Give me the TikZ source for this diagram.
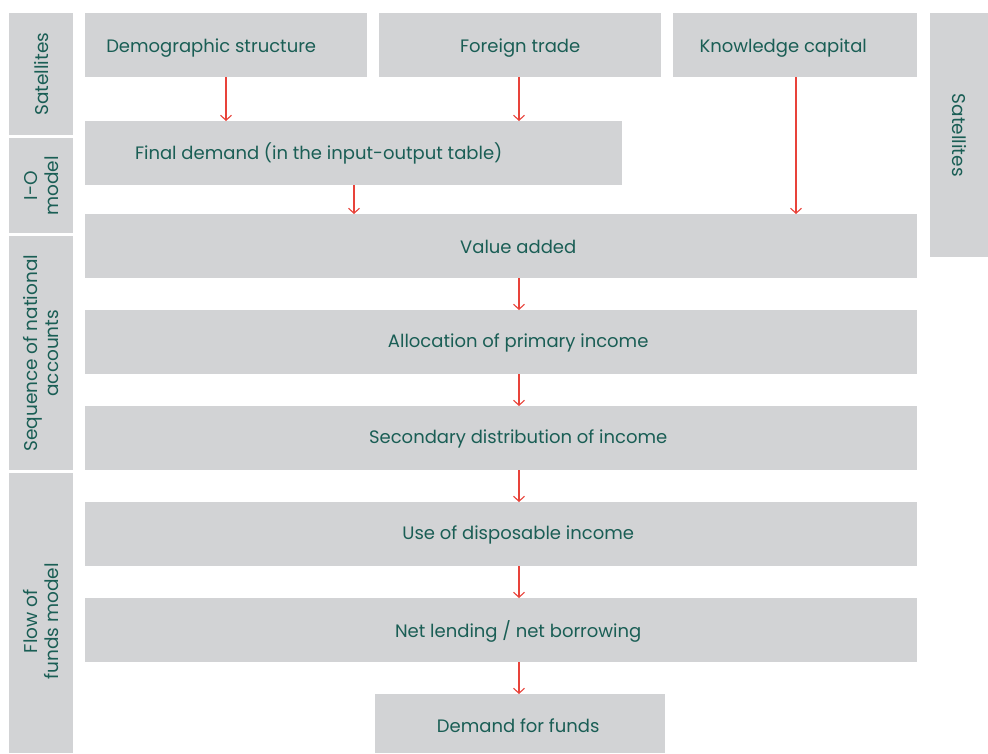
\documentclass[tikz,border=0pt]{standalone}
\usepackage{fontspec}
\setmainfont{Poppins}
\usetikzlibrary{arrows.meta}
\definecolor{boxgray}{HTML}{D2D3D5}
\definecolor{tealtxt}{HTML}{1A5E55}
\definecolor{arrred}{HTML}{E8433A}
\begin{document}
\begin{tikzpicture}[x=1pt,y=-1pt,
  box/.style={fill=boxgray,draw=none,inner sep=0pt,anchor=north west},
  lbl/.style={text=tealtxt,font=\fontsize{18}{22}\selectfont,inner sep=0pt},
  vlbl/.style={text=tealtxt,font=\fontsize{18.5}{21}\selectfont,inner sep=0pt,align=center},
  flow/.style={draw=arrred,line width=1.2pt,-{Straight Barb[length=5pt,width=11pt,line width=1.1pt]}}]
\useasboundingbox (0,0) rectangle (988,753);
% left column
\node[box,minimum width=64pt,minimum height=122pt] (lsat) at (9,13) {};
\node[box,minimum width=64pt,minimum height=95pt] (lio) at (9,138) {};
\node[box,minimum width=64pt,minimum height=234pt] (lseq) at (9,236) {};
\node[box,minimum width=64pt,minimum height=280pt] (lfof) at (9,473) {};
\node[vlbl,rotate=90] at (lsat.center) {Satellites};
\node[vlbl,rotate=90] at (lio.center) {I-O\\model};
\node[vlbl,rotate=90] at (lseq.center) {Sequence of national\\accounts};
\node[vlbl,rotate=90] at ([yshift=-8pt]lfof.center) {Flow of\\funds model};
% right column
\node[box,minimum width=58pt,minimum height=244pt] (rsat) at (930,13) {};
\node[vlbl,rotate=-90] at (rsat.center) {Satellites};
% top boxes
\node[box,minimum width=282pt,minimum height=64pt] (demo) at (85,13) {};
\node[box,minimum width=282pt,minimum height=64pt] (trade) at (379,13) {};
\node[box,minimum width=244pt,minimum height=64pt] (know) at (673,13) {};
\node[lbl] at ([xshift=-15pt,yshift=-3pt]demo.center) {Demographic structure};
\node[lbl] at ([yshift=-3pt]trade.center) {Foreign trade};
\node[lbl] at ([xshift=-12pt,yshift=-3pt]know.center) {Knowledge capital};
% final demand
\node[box,minimum width=537pt,minimum height=64pt] (fd) at (85,121) {};
\node[lbl] at ([xshift=-35pt]fd.center) {Final demand (in the input-output table)};
% main chain
\node[box,minimum width=832pt,minimum height=64pt] (va) at (85,214) {};
\node[lbl] at ([xshift=17pt,yshift=-1pt]va.center) {Value added};
\node[box,minimum width=832pt,minimum height=64pt] (api) at (85,310) {};
\node[lbl] at ([xshift=17pt,yshift=-1pt]api.center) {Allocation of primary income};
\node[box,minimum width=832pt,minimum height=64pt] (sdi) at (85,406) {};
\node[lbl] at ([xshift=17pt,yshift=-1pt]sdi.center) {Secondary distribution of income};
\node[box,minimum width=832pt,minimum height=64pt] (udi) at (85,502) {};
\node[lbl] at ([xshift=17pt,yshift=-1pt]udi.center) {Use of disposable income};
\node[box,minimum width=832pt,minimum height=64pt] (nl) at (85,598) {};
\node[lbl] at ([xshift=17pt,yshift=-1pt]nl.center) {Net lending / net borrowing};
\node[box,minimum width=290pt,minimum height=59pt] (dff) at (375,694) {};
\node[lbl] at ([xshift=-2pt,yshift=-2pt]dff.center) {Demand for funds};
% arrows
\draw[flow] (demo.south west) ++(141,0) coordinate (a1) -- (a1 |- fd.north);
\draw[flow] (trade.south west) ++(140,0) coordinate (a2) -- (a2 |- fd.north);
\draw[flow] (know.south west) ++(123,0) coordinate (a3) -- (a3 |- va.north);
\draw[flow] (fd.south west) ++(269,0) coordinate (a4) -- (a4 |- va.north);
\draw[flow] (va.south west) ++(434,0) coordinate (a5) -- (a5 |- api.north);
\draw[flow] (api.south west) ++(434,0) coordinate (a6) -- (a6 |- sdi.north);
\draw[flow] (sdi.south west) ++(434,0) coordinate (a7) -- (a7 |- udi.north);
\draw[flow] (udi.south west) ++(434,0) coordinate (a8) -- (a8 |- nl.north);
\draw[flow] (nl.south west) ++(434,0) coordinate (a9) -- (a9 |- dff.north);
\end{tikzpicture}
\end{document}
